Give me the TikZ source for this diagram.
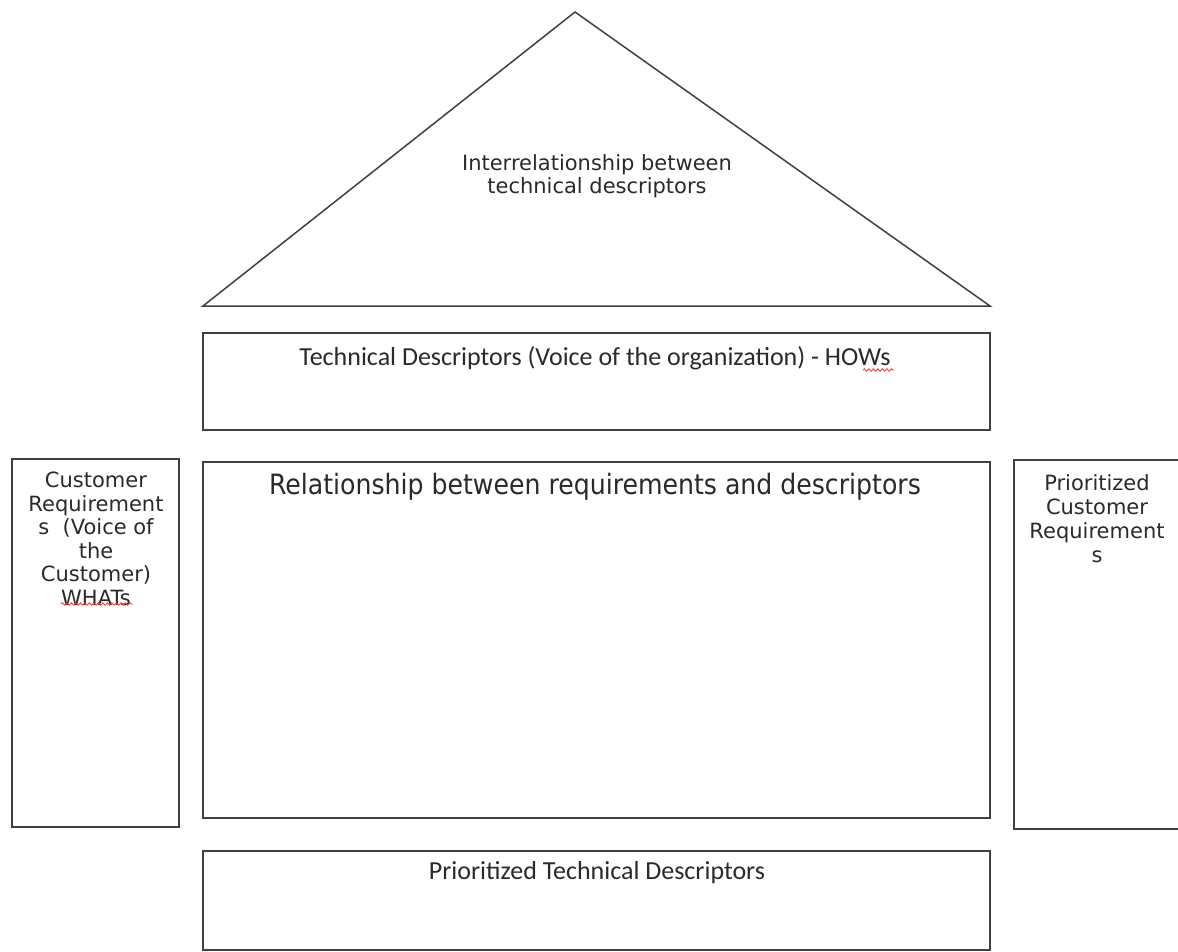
\documentclass[tikz,border=0pt]{standalone}
\usepackage{fontspec}
\usetikzlibrary{decorations.pathmorphing}
\newfontfamily\dvfont{DejaVu Sans}
\newfontfamily\dvcfont{DejaVu Sans Condensed}
\newfontfamily\calfont{Carlito}
\definecolor{edge}{HTML}{404040}
\definecolor{ink}{HTML}{2A2A2A}
\begin{document}
\begin{tikzpicture}[x=1pt,y=-1pt,
  part/.style={draw=edge,line width=1.5pt},
  lbl/.style={text=ink,inner sep=0pt,align=center},
  squig/.style={draw=red!80,line width=0.8pt,decorate,decoration={snake,amplitude=1.3pt,segment length=4.5pt}}]
\useasboundingbox (0,0) rectangle (1178,951);
\fill[white] (0,0) rectangle (1178,951);
% roof
\draw[part,line join=miter] (575,12) coordinate (apex) -- (990,306) coordinate (br) -- (203,306) coordinate (bl) -- cycle;
\node[lbl,font=\dvfont\fontsize{21}{23}\selectfont] (roof) at (597,176) {Interrelationship between\\technical descriptors};
% technical descriptors
\node[part,minimum width=787pt,minimum height=97pt,inner sep=0pt] (tech) at (596.5,381.5) {};
\node[lbl,font=\calfont\fontsize{26}{30}\selectfont,anchor=base] (techt) at (595,365) {Technical Descriptors (Voice of the organization) - HOWs};
% relationship matrix
\node[part,minimum width=787pt,minimum height=356pt,inner sep=0pt] (rel) at (596.5,640) {};
\node[lbl,font=\dvcfont\fontsize{28}{32}\selectfont,anchor=base] (relt) at (595,494) {Relationship between requirements and descriptors};
% customer requirements
\node[part,minimum width=167pt,minimum height=368pt,inner sep=0pt] (cust) at (95.5,643) {};
\node[lbl,font=\dvfont\fontsize{21}{23.5}\selectfont,anchor=north] (custt) at (96,472) {Customer\\Requirement\\s\ \ (Voice of\\the\\Customer)\\WHATs};
% prioritized customer requirements
\node[part,minimum width=180pt,minimum height=369pt,inner sep=0pt] (pcust) at (1104,644.5) {};
\node[lbl,font=\dvfont\fontsize{21}{24.2}\selectfont,anchor=north] (pcustt) at (1097,474) {Prioritized\\Customer\\Requirement\\s};
% prioritized technical descriptors
\node[part,minimum width=787pt,minimum height=99pt,inner sep=0pt] (ptech) at (596.5,900.5) {};
\node[lbl,font=\calfont\fontsize{26}{30}\selectfont,anchor=base] (ptecht) at (597,879) {Prioritized Technical Descriptors};
% spell-check squiggles
\coordinate (h1) at (863,370); \coordinate (h2) at (894,370);
\draw[squig] (h1) -- (h2);
\coordinate (w1) at (61,604); \coordinate (w2) at (133,604);
\draw[squig] (w1) -- (w2);
\end{tikzpicture}
\end{document}
